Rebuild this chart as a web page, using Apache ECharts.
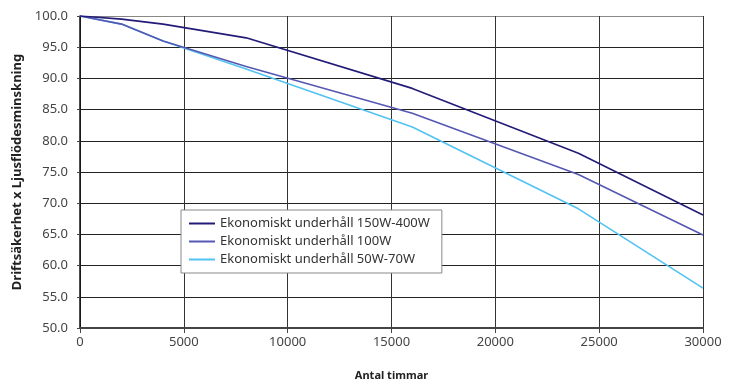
<!DOCTYPE html>
<html>
<head>
<meta charset="utf-8">
<script src="https://cdn.jsdelivr.net/npm/echarts@6/dist/echarts.min.js"></script>
<style>
  html, body { margin: 0; padding: 0; background: #fff; }
  #chart { width: 737px; height: 392px; }
</style>
</head>
<body>
<div id="chart"></div>
<script>
// timmar (x) och värden per serie
const hours = [0, 2000, 4000, 8000, 16000, 24000, 30000];
const seriesNames = [
  'Ekonomiskt underhåll 150W-400W',
  'Ekonomiskt underhåll 100W',
  'Ekonomiskt underhåll 50W-70W'
];
const values150_400 = [100, 99.5, 98.7, 96.5, 88.4, 78.0, 68.1];
const values100 = [100, 98.7, 96.0, 91.9, 84.4, 74.6, 64.9];
const values50_70 = [100, 98.7, 96.0, 91.5, 82.2, 69.1, 56.4];
const colors = ['#221c78', '#5558b2', '#52c2f2'];

const chart = echarts.init(document.getElementById('chart'));

function pairs(vals) {
  return hours.map((h, i) => [h, vals[i]]);
}

const allValues = [values150_400, values100, values50_70];

chart.setOption({
  animation: false,
  textStyle: { fontFamily: 'Noto Sans' },
  grid: { left: 80, right: 34, top: 16, bottom: 64 },
  legend: {
    orient: 'vertical',
    left: 181,
    top: 210,
    icon: 'rect',
    itemWidth: 26,
    itemHeight: 2,
    itemGap: 5,
    backgroundColor: '#fff',
    borderColor: '#888',
    borderWidth: 1,
    borderRadius: 0,
    padding: [7, 12, 7, 8],
    textStyle: { fontSize: 13, color: '#333', fontFamily: 'Noto Sans' },
    data: seriesNames
  },
  xAxis: {
    type: 'value',
    min: 0,
    max: 30000,
    interval: 5000,
    name: 'Antal timmar',
    nameLocation: 'middle',
    nameGap: 42,
    nameTextStyle: { fontSize: 11, fontWeight: 'bold', color: '#222' },
    axisLine: { show: true, lineStyle: { color: '#444', width: 2 } },
    axisTick: { show: true, length: 5, lineStyle: { color: '#444' } },
    axisLabel: { fontSize: 13, color: '#444', margin: 8, formatter: v => String(v) },
    splitLine: { show: true, lineStyle: { color: '#333', width: 1 } }
  },
  yAxis: {
    type: 'value',
    min: 50,
    max: 100,
    interval: 5,
    name: 'Driftsäkerhet x Ljusflödesminskning',
    nameLocation: 'middle',
    nameGap: 56,
    nameTextStyle: { fontSize: 13, fontWeight: 'bold', color: '#222' },
    axisLine: { show: true, lineStyle: { color: '#111', width: 1.5 } },
    axisTick: { show: true, length: 3, lineStyle: { color: '#444' } },
    axisLabel: {
      fontSize: 13,
      color: '#444',
      margin: 12,
      formatter: v => v.toFixed(1)
    },
    splitLine: {
      show: true,
      lineStyle: {
        color: ['#222', '#222', '#222', '#222', '#222', '#222', '#222', '#222', '#222', '#222', '#888'],
        width: 1
      }
    }
  },
  series: seriesNames.map((name, i) => ({
    name: name,
    type: 'line',
    symbol: 'none',
    data: pairs(allValues[i]),
    lineStyle: { color: colors[i], width: 1.6 },
    itemStyle: { color: colors[i] },
    z: 3 - i
  }))
});
</script>
</body>
</html>
